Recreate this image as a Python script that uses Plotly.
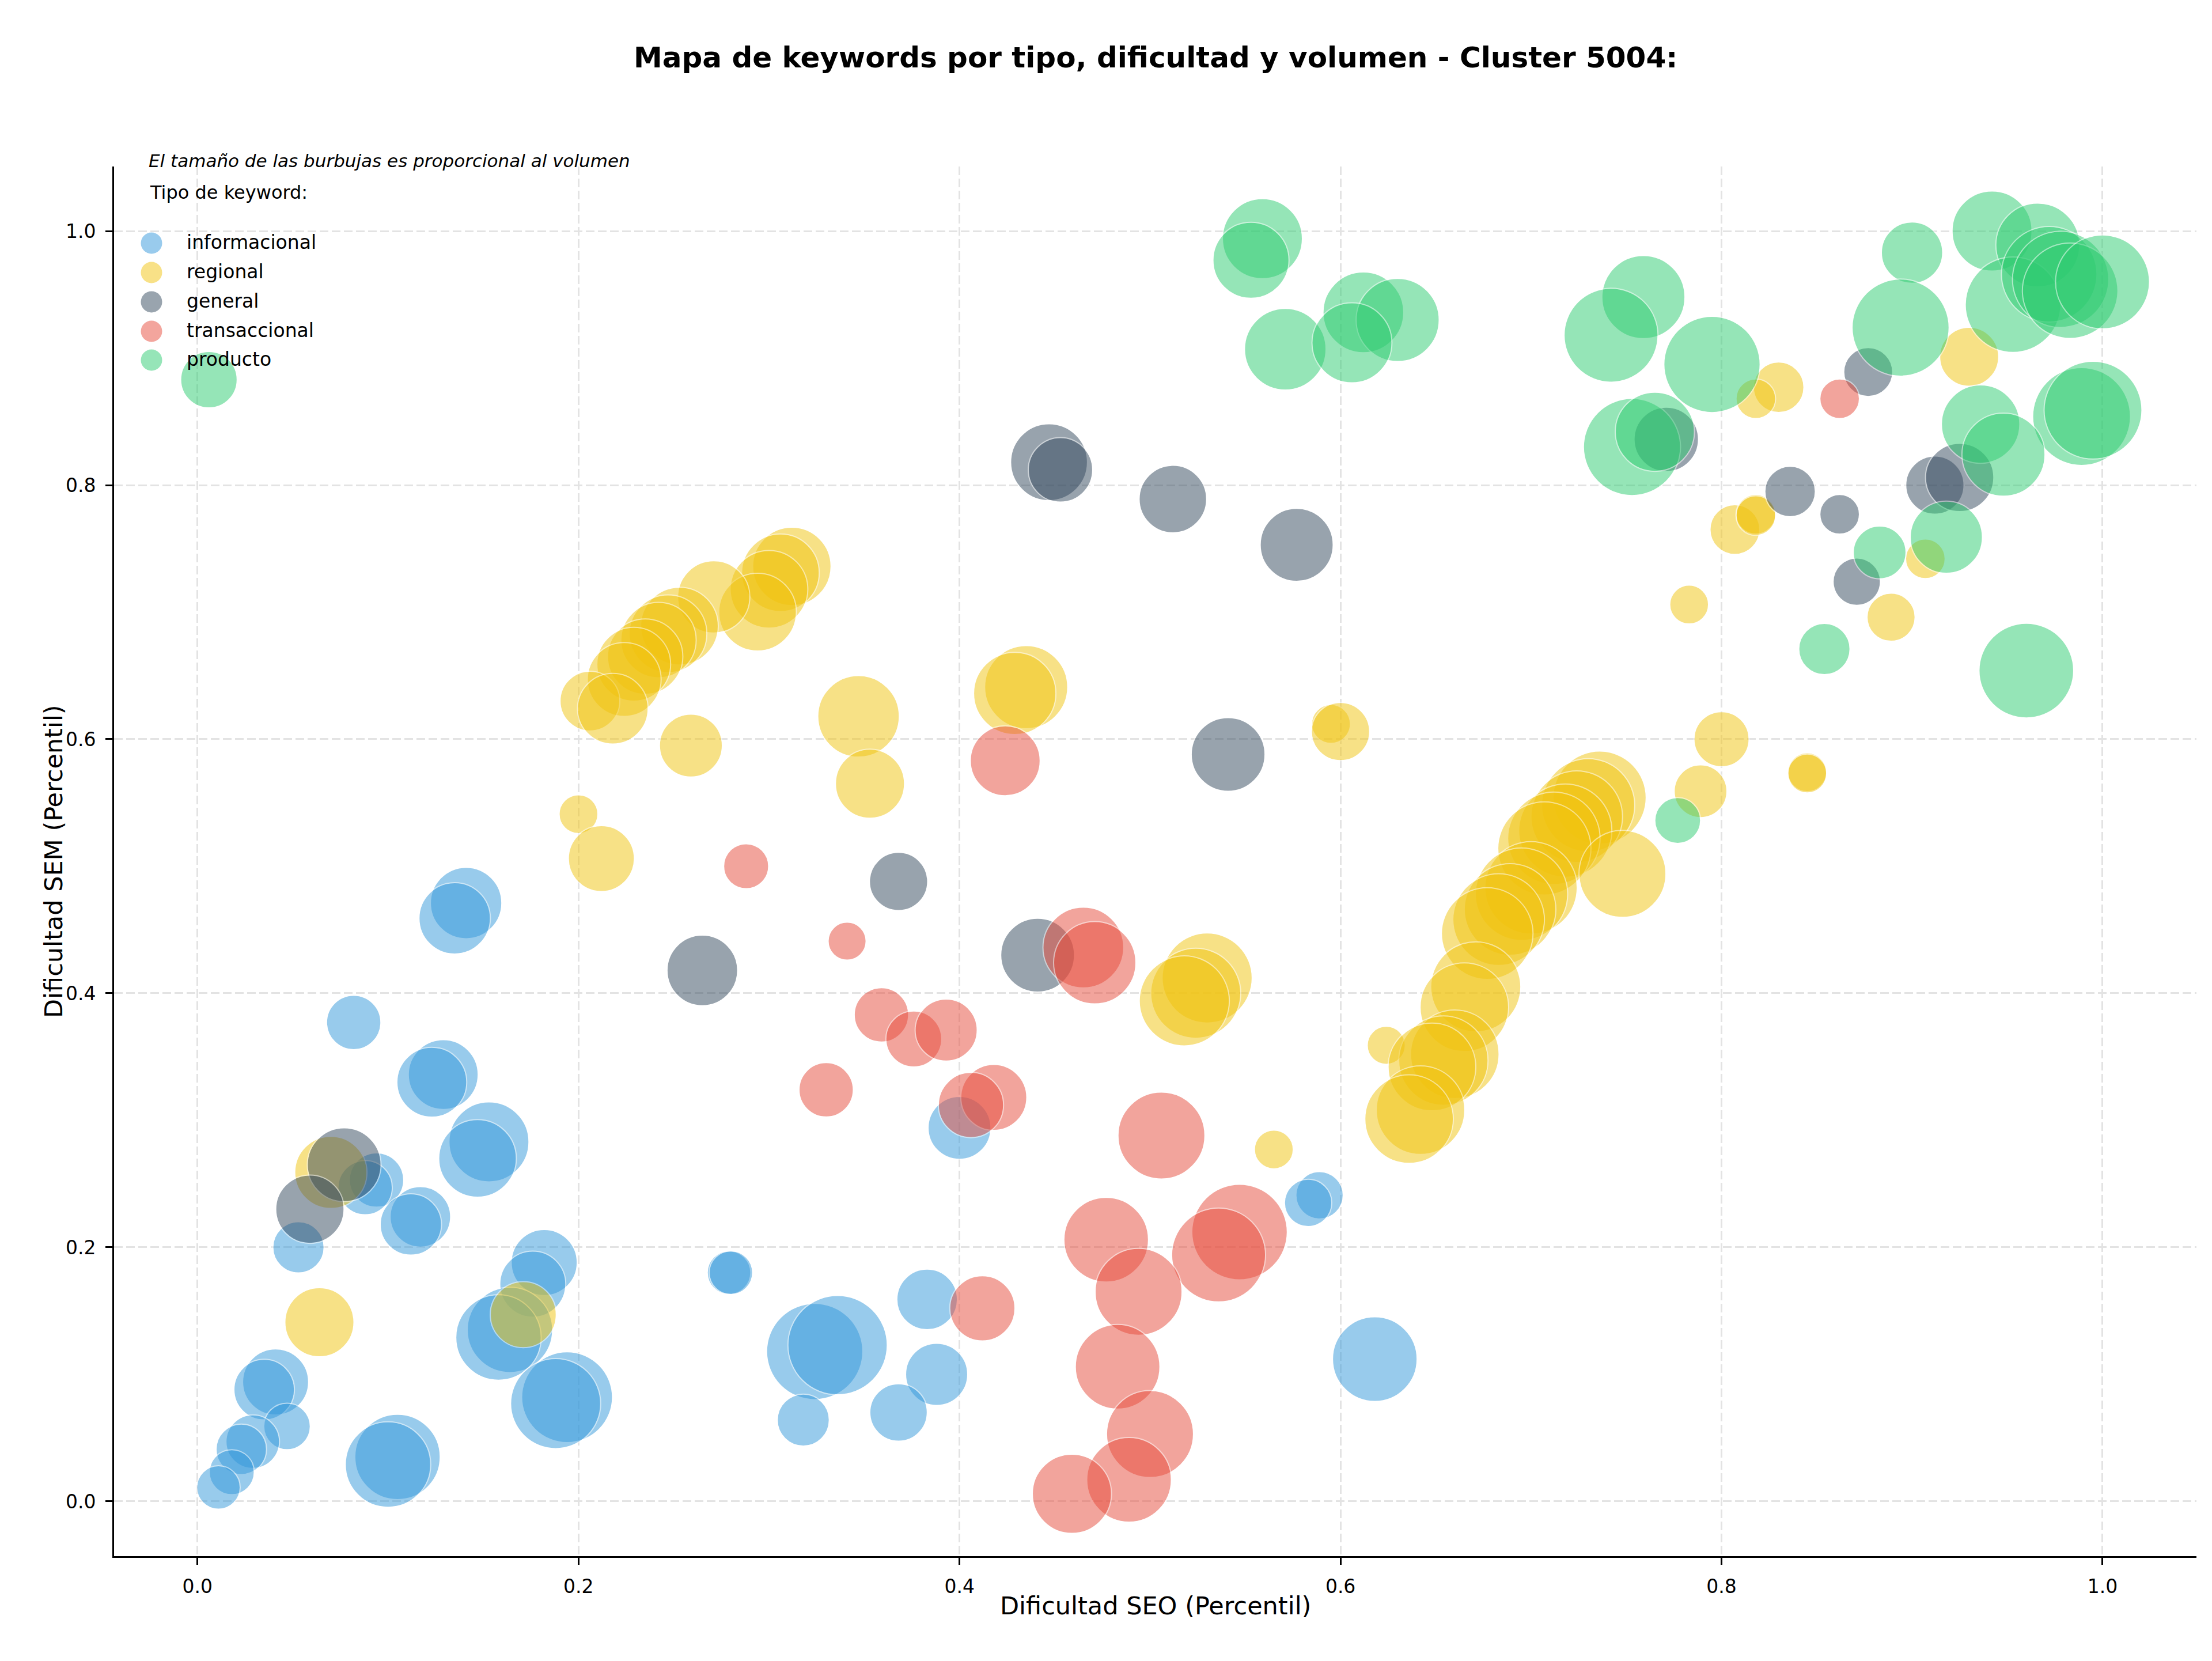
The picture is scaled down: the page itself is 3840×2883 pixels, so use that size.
import plotly.graph_objects as go

# ---------------- data ----------------
categorias = ["informacional", "regional", "general", "transaccional", "producto"]
colores = ["#3498db", "#f1c40f", "#34495e", "#e74c3c", "#2ecc71"]

info_x = [0.141, 0.135, 0.082, 0.129, 0.123, 0.153, 0.147, 0.094, 0.088, 0.117, 0.112, 0.053, 0.182, 0.176,
          0.164, 0.158, 0.194, 0.188, 0.041, 0.035, 0.047, 0.029, 0.023, 0.018, 0.011, 0.105, 0.100, 0.279,
          0.280, 0.324, 0.336, 0.318, 0.400, 0.589, 0.583, 0.383, 0.388, 0.368, 0.618]
info_y = [0.471, 0.459, 0.377, 0.336, 0.330, 0.283, 0.270, 0.253, 0.247, 0.224, 0.218, 0.200, 0.188, 0.171,
          0.135, 0.129, 0.082, 0.077, 0.094, 0.088, 0.059, 0.047, 0.041, 0.023, 0.011, 0.035, 0.029, 0.180,
          0.180, 0.118, 0.123, 0.064, 0.294, 0.241, 0.235, 0.159, 0.100, 0.070, 0.112]
info_vol = [846, 846, 490, 810, 810, 1061, 1000, 490, 490, 608, 624, 436, 723, 723,
            1210, 1210, 1369, 1346, 723, 608, 360, 476, 423, 336, 314, 1210, 1210, 314,
            314, 1538, 1638, 449, 656, 372, 372, 608, 640, 548, 1188]

reg_x = [0.312, 0.306, 0.300, 0.294, 0.271, 0.253, 0.247, 0.242, 0.235, 0.229, 0.224, 0.206, 0.218, 0.259,
         0.200, 0.212, 0.347, 0.353, 0.435, 0.429, 0.595, 0.600, 0.530, 0.524, 0.518, 0.565, 0.624, 0.736,
         0.730, 0.724, 0.718, 0.712, 0.707, 0.700, 0.695, 0.689, 0.683, 0.677, 0.671, 0.665, 0.660, 0.654,
         0.648, 0.642, 0.636, 0.748, 0.800, 0.845, 0.845, 0.789, 0.830, 0.818, 0.930, 0.807, 0.818, 0.818,
         0.907, 0.783, 0.889, 0.070, 0.064, 0.171]
reg_y = [0.736, 0.731, 0.718, 0.700, 0.712, 0.689, 0.683, 0.678, 0.665, 0.659, 0.647, 0.630, 0.624, 0.595,
         0.541, 0.506, 0.618, 0.565, 0.641, 0.636, 0.612, 0.606, 0.412, 0.400, 0.394, 0.277, 0.359, 0.554,
         0.548, 0.539, 0.528, 0.522, 0.514, 0.483, 0.478, 0.466, 0.458, 0.447, 0.405, 0.389, 0.352, 0.347,
         0.342, 0.308, 0.301, 0.494, 0.600, 0.574, 0.573, 0.559, 0.877, 0.868, 0.901, 0.765, 0.777, 0.776,
         0.742, 0.706, 0.696, 0.259, 0.141, 0.147]
reg_vol = [1020, 1000, 1000, 1000, 865, 1000, 1000, 941, 941, 903, 903, 593, 828, 656,
           250, 723, 1103, 792, 1145, 1124, 250, 563, 1346, 1346, 1346, 250, 240, 1440,
           1440, 1392, 1440, 1416, 1440, 1416, 1416, 1392, 1392, 1392, 1346, 1300, 1300, 1323,
           1277, 1300, 1300, 1254, 504, 250, 250, 462, 423, 260, 578, 410, 260, 260,
           260, 250, 384, 865, 792, 723]

gen_x = [0.447, 0.453, 0.512, 0.577, 0.771, 0.877, 0.836, 0.862, 0.912, 0.925, 0.871, 0.541, 0.368, 0.441,
         0.265, 0.077, 0.059]
gen_y = [0.818, 0.812, 0.789, 0.753, 0.836, 0.889, 0.795, 0.777, 0.800, 0.806, 0.724, 0.588, 0.488, 0.430,
         0.418, 0.265, 0.230]
gen_vol = [980, 689, 757, 884, 689, 397, 423, 260, 563, 774, 372, 903, 563, 903,
           828, 903, 774]

tra_x = [0.862, 0.424, 0.288, 0.341, 0.465, 0.471, 0.359, 0.376, 0.393, 0.330, 0.418, 0.406, 0.506, 0.547,
         0.536, 0.477, 0.494, 0.483, 0.500, 0.489, 0.459, 0.412]
tra_y = [0.868, 0.583, 0.500, 0.441, 0.436, 0.424, 0.383, 0.364, 0.371, 0.324, 0.318, 0.312, 0.288, 0.212,
         0.194, 0.206, 0.165, 0.106, 0.053, 0.017, 0.006, 0.152]
tra_vol = [260, 810, 336, 240, 1082, 1124, 490, 518, 640, 490, 723, 706, 1254, 1513,
           1464, 1188, 1254, 1188, 1254, 1188, 1040, 706]

pro_x = [0.006, 0.559, 0.553, 0.571, 0.612, 0.630, 0.606, 0.942, 0.966, 0.900, 0.759, 0.742, 0.795, 0.894,
         0.953, 0.972, 0.978, 0.983, 1.000, 0.989, 0.995, 0.936, 0.948, 0.918, 0.883, 0.753, 0.765, 0.854,
         0.960, 0.777]
pro_y = [0.883, 0.994, 0.977, 0.907, 0.936, 0.930, 0.912, 1.000, 0.989, 0.983, 0.948, 0.918, 0.895, 0.924,
         0.942, 0.966, 0.962, 0.953, 0.960, 0.854, 0.859, 0.848, 0.824, 0.759, 0.747, 0.830, 0.842, 0.671,
         0.654, 0.536]
pro_vol = [530, 1061, 960, 1103, 1082, 1145, 1061, 1061, 1166, 624, 1145, 1464, 1538, 1563,
           1513, 1513, 1538, 1513, 1464, 1588, 1588, 1020, 1145, 865, 462, 1563, 1040, 436,
           1488, 348]

tick_vals = [0.0, 0.2, 0.4, 0.6, 0.8, 1.0]
tick_text = ["0.0", "0.2", "0.4", "0.6", "0.8", "1.0"]

titulo = "Mapa de keywords por tipo, dificultad y volumen - Cluster 5004:"
nota = "El tamaño de las burbujas es proporcional al volumen"
titulo_leyenda = "Tipo de keyword:"
eje_x = "Dificultad SEO (Percentil)"
eje_y = "Dificultad SEM (Percentil)"

series = [(info_x, info_y, info_vol), (reg_x, reg_y, reg_vol), (gen_x, gen_y, gen_vol),
          (tra_x, tra_y, tra_vol), (pro_x, pro_y, pro_vol)]

# ---------------- layout geometry ----------------
W, H = 3840, 2883
PL, PR, PT, PB = 198, 3813, 289, 2701
FONT = "DejaVu Sans"


def pxx(X):
    return (X - PL) / (PR - PL)


def pyy(Y):
    return (PB - Y) / (PB - PT)


fig = go.Figure()
for name, col, (xs, ys, vs) in zip(categorias, colores, series):
    fig.add_trace(go.Scatter(
        x=xs, y=ys, mode="markers", name=name, showlegend=False,
        marker=dict(size=vs, sizemode="area", sizeref=0.11, color=col, opacity=0.5,
                    line=dict(color="white", width=2)),
    ))

annotations = [
    dict(text=titulo, x=0.5, y=pyy(100), xref="paper", yref="paper", xanchor="center", yanchor="middle",
         showarrow=False, font=dict(family=FONT, size=50, color="black", weight="bold")),
    dict(text=nota, x=pxx(256), y=pyy(279), xref="paper", yref="paper", xanchor="left", yanchor="middle",
         showarrow=False, font=dict(family=FONT, size=31, color="black", style="italic")),
    dict(text=titulo_leyenda, x=pxx(258), y=pyy(334), xref="paper", yref="paper", xanchor="left",
         yanchor="middle", showarrow=False, font=dict(family=FONT, size=32, color="black")),
    dict(text=eje_x, x=0.5, y=pyy(2787), xref="paper", yref="paper", xanchor="center", yanchor="middle",
         showarrow=False, font=dict(family=FONT, size=43, color="black")),
    dict(text=eje_y, x=pxx(93), y=0.5, xref="paper", yref="paper", xanchor="center", yanchor="middle",
         textangle=-90, showarrow=False, font=dict(family=FONT, size=43, color="black")),
]
shapes = []
leg_y = [422, 473, 524, 575, 625]
for name, col, yc in zip(categorias, colores, leg_y):
    shapes.append(dict(type="circle", xref="paper", yref="paper", xsizemode="pixel", ysizemode="pixel",
                       xanchor=pxx(263), yanchor=pyy(yc), x0=-18.5, x1=18.5, y0=-18.5, y1=18.5,
                       fillcolor=col, opacity=0.5, line=dict(width=0), layer="above"))
    annotations.append(dict(text=name, x=pxx(322), y=pyy(yc - 2), xref="paper", yref="paper",
                            xanchor="left", yanchor="middle", showarrow=False,
                            font=dict(family=FONT, size=33, color="black")))

axis_common = dict(
    showgrid=True, gridcolor="#e3e3e3", gridwidth=2.5, griddash="15px,6px",
    zeroline=False, showline=True, linecolor="black", linewidth=2.7,
    ticks="outside", ticklen=12, tickwidth=2.7, tickcolor="black",
    tickvals=tick_vals, ticktext=tick_text,
    tickfont=dict(family=FONT, size=33, color="black"),
)

fig.update_layout(
    width=W, height=H, autosize=False,
    margin=dict(l=PL, r=W - PR, t=PT, b=H - PB, pad=0),
    paper_bgcolor="white", plot_bgcolor="white",
    showlegend=False,
    xaxis=dict(range=[-0.0438, 1.0493], ticklabelstandoff=10, **axis_common),
    yaxis=dict(range=[-0.0431, 1.0508], ticklabelstandoff=10, **axis_common),
    annotations=annotations, shapes=shapes,
    font=dict(family=FONT, color="black"),
)

fig.write_html("out.html")
